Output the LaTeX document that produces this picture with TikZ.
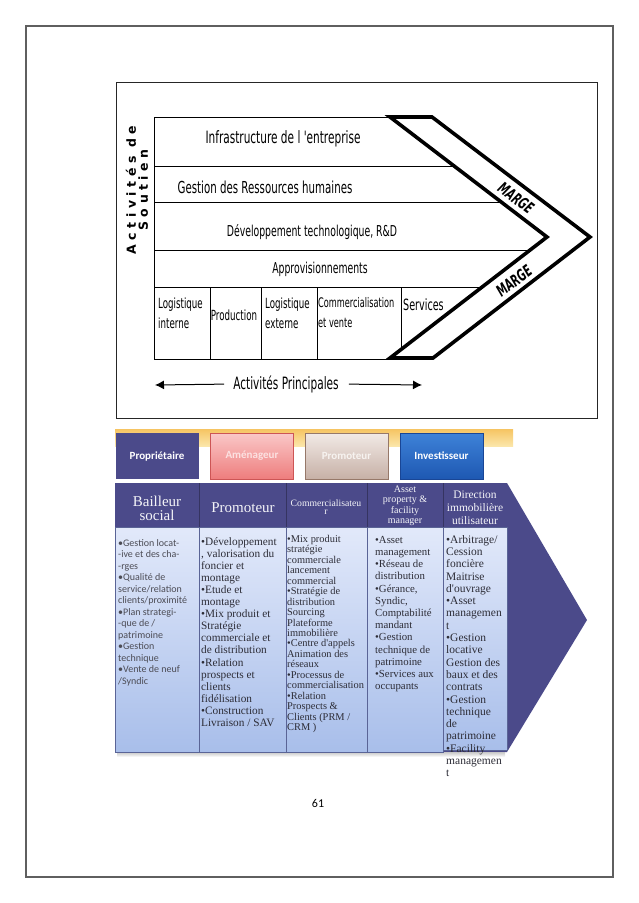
\documentclass[tikz,border=0pt]{standalone}
\usepackage{fontspec}
\usepackage{tikz}
\usetikzlibrary{arrows.meta,calc}
\newfontfamily\chainfont[FakeStretch=0.62]{DejaVu Sans}
\newfontfamily\soutfont[LetterSpace=36]{DejaVu Sans}
\newfontfamily\cambfont{Liberation Serif}
\newfontfamily\califont{Carlito}
\definecolor{pagegray}{RGB}{95,95,95}
\definecolor{chevblue}{RGB}{75,74,138}
\definecolor{cellhi}{RGB}{226,233,250}
\definecolor{celllo}{RGB}{168,190,234}
\definecolor{cellrule}{RGB}{90,100,150}
\definecolor{celltext}{RGB}{45,45,55}
\definecolor{barorange}{RGB}{246,196,98}
\definecolor{baryellow}{RGB}{251,230,170}
\definecolor{amenhi}{RGB}{250,200,200}
\definecolor{amenlo}{RGB}{238,125,125}
\definecolor{amenedge}{RGB}{205,85,85}
\definecolor{promhi}{RGB}{242,234,230}
\definecolor{promlo}{RGB}{198,176,166}
\definecolor{promedge}{RGB}{150,120,105}
\definecolor{invhi}{RGB}{62,130,216}
\definecolor{invlo}{RGB}{30,88,178}
\definecolor{invedge}{RGB}{25,70,150}

\begin{document}
\begin{tikzpicture}[x=1pt,y=-1pt,>={Latex[length=9pt,width=9pt]},
    thinrule/.style={line width=0.9pt,black},
    chevline/.style={line width=3.6pt,black},
    rowtext/.style={font=\chainfont\fontsize{#1}{16}\selectfont,inner sep=0pt},
    primtext/.style={font=\chainfont\fontsize{14}{20}\selectfont,align=left,inner sep=0pt},
    margetext/.style={font=\chainfont\bfseries\itshape\fontsize{16}{16}\selectfont,inner sep=0pt},
    topbox/.style={minimum width=83pt,minimum height=46pt,inner sep=0pt,text=white,font=\califont\bfseries\fontsize{11}{13}\selectfont},
    headtext/.style={text=white!94!chevblue,align=center,inner sep=0pt},
    celltxt/.style={text=celltext,align=left,anchor=north west,inner sep=0pt},
    cell/.style={draw=cellrule,line width=0.8pt,top color=cellhi,bottom color=celllo}]
\useasboundingbox (0,0) rectangle (638,903);
\draw[pagegray,line width=1.1pt] (26,26) rectangle (613,877);

% chaine de valeur
\draw[line width=0.9pt,black!85] (116,82) rectangle (597,418);
\draw[thinrule] (390,117) -- (154,117) -- (154,359) -- (390,359);
\draw[thinrule] (154,166) -- (454,166) (154,202) -- (501,202) (154,250) -- (530,250) (154,287) -- (482,287);
\draw[thinrule] (210,287) -- (210,359) (261,287) -- (261,359) (317,287) -- (317,359) (401,287) -- (401,350);
\draw[chevline] (390,117) -- (432,117) -- (590,237) -- (433,358) -- (390,358) -- (547,237) -- cycle;
\node[rowtext=17] (infra) at (283,139) {Infrastructure de l 'entreprise};
\node[rowtext=16.5] (grh) at (265,187) {Gestion des Ressources humaines};
\node[rowtext=15] (rd) at (312,232) {Développement technologique, R\&D};
\node[rowtext=15] (appro) at (320,269) {Approvisionnements};
\node[primtext,anchor=west] (login) at (158,313) {Logistique\\interne};
\node[primtext] (prod) at (234,315) {Production};
\node[primtext,anchor=west] (logex) at (265,313) {Logistique\\externe};
\node[primtext,font=\chainfont\fontsize{13.2}{20}\selectfont,anchor=west] (comv) at (318,313) {Commercialisation\\et vente};
\node[primtext,font=\chainfont\fontsize{15.5}{20}\selectfont,anchor=west] (serv) at (403,305) {Services};
\node[margetext,rotate=-37.4] (margehaut) at (516,198) {MARGE};
\node[margetext,rotate=37.4] (margebas) at (514,281) {MARGE};
\node[rotate=90,align=center,inner sep=0pt,font=\soutfont\bfseries\fontsize{12.5}{12}\selectfont] (soutien) at (137,190) {Activités de\\Soutien};
\node[rowtext=17] (princ) at (286,384) {Activités Principales};
\coordinate (pgauche) at (155,385);
\coordinate (pdroite) at (422,385);
\draw[->,line width=1pt,shorten <=9pt] (princ.west) -- (pgauche);
\draw[->,line width=1pt,shorten <=10pt] (princ.east) -- (pdroite);

% acteurs
\fill[top color=barorange,bottom color=baryellow] (115,429) rectangle (513,446);
\node[topbox,fill=chevblue] (proprio) at (157,456) {Propriétaire};
\node[topbox,draw=amenedge,top color=amenhi,bottom color=amenlo,text=amenhi!55!white] (amenag) at (252,456) {Aménageur};
\node[topbox,draw=promedge,top color=promhi,bottom color=promlo,text=promhi!60!white] (promo) at (346.5,456) {Promoteur};
\node[topbox,draw=invedge,top color=invhi,bottom color=invlo] (invest) at (441.5,456) {Investisseur};

\fill[chevblue] (115,483) -- (507,483) -- (587,620) -- (507,752) -- (115,752) -- cycle;
\fill[top color=black!22,bottom color=white] (117,752) rectangle (505,757);
\foreach \xa/\xb in {115/199,199/286,286/367,367/443}
    \draw[cell] (\xa,527) rectangle (\xb,752);
\draw[cell] (443,527) rectangle (507,750);
\foreach \xs in {199,286,367,443}
    \draw[chevblue!70!black,line width=0.8pt] (\xs,483) -- (\xs,527);

\node[headtext,font=\cambfont\fontsize{15}{14}\selectfont] (hbail) at (157,508) {Bailleur\\social};
\node[headtext,font=\cambfont\fontsize{15}{14}\selectfont] (hprom) at (243,508) {Promoteur};
\node[headtext,font=\cambfont\fontsize{9.7}{8.5}\selectfont] (hcomm) at (326,507) {Commercialisateu\\r};
\node[headtext,font=\cambfont\fontsize{10}{10.5}\selectfont] (hasset) at (405,506) {Asset\\property \&\\facility\\manager};
\node[headtext,font=\cambfont\fontsize{11.5}{13}\selectfont] (hdir) at (475,508) {Direction\\immobilière\\utilisateur};

\node[celltxt,text=celltext!85!white,font=\califont\fontsize{10}{11.5}\selectfont] (tbail) at (118,539)
  {•Gestion locat-\\-ive et des cha-\\-rges\\•Qualité de\\service/relation\\clients/proximité\\•Plan strategi-\\-que de /\\patrimoine\\•Gestion\\technique\\•Vente de neuf\\/Syndic};
\node[celltxt,font=\cambfont\fontsize{11.3}{12.1}\selectfont] (tprom) at (201,537)
  {•Développement\\, valorisation du\\foncier et\\montage\\•Etude et\\montage\\•Mix produit et\\Stratégie\\commerciale et\\de distribution\\•Relation\\prospects et\\clients\\fidélisation\\•Construction\\Livraison / SAV};
\node[celltxt,font=\cambfont\fontsize{10.4}{10.45}\selectfont] (tcomm) at (287,535)
  {•Mix produit\\stratégie\\commerciale\\lancement\\commercial\\•Stratégie de\\distribution\\Sourcing\\Plateforme\\immobilière\\•Centre d'appels\\Animation des\\réseaux\\•Processus de\\commercialisation\\•Relation\\Prospects \&\\Clients (PRM /\\CRM )};
\node[celltxt,font=\cambfont\fontsize{10.8}{12.2}\selectfont] (tasset) at (375,536)
  {•Asset\\management\\•Réseau de\\distribution\\•Gérance,\\Syndic,\\Comptabilité\\mandant\\•Gestion\\technique de\\patrimoine\\•Services aux\\occupants};
\node[celltxt,font=\cambfont\fontsize{11.5}{12.3}\selectfont] (tdir) at (446,535)
  {•Arbitrage/\\Cession\\foncière\\Maitrise\\d'ouvrage\\•Asset\\managemen\\t\\•Gestion\\locative\\Gestion des\\baux et des\\contrats\\•Gestion\\technique\\de\\patrimoine\\•Facility\\managemen\\t};

\node[font=\califont\fontsize{12}{14}\selectfont] (pagenum) at (318,803) {61};
\end{tikzpicture}
\end{document}
